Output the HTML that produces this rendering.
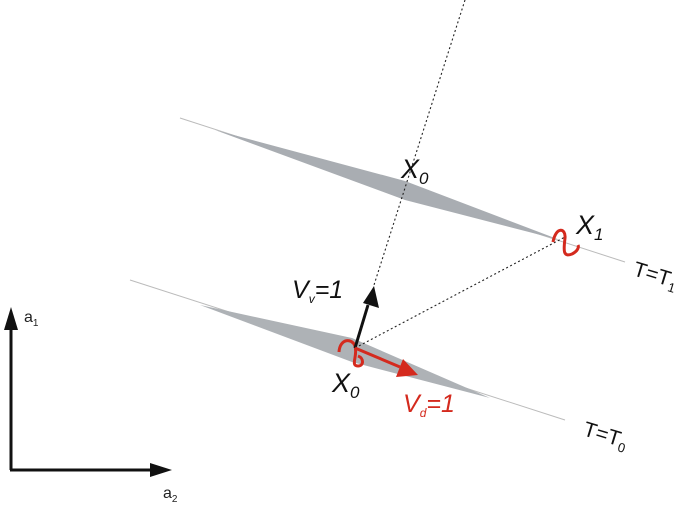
<!DOCTYPE html>
<html><head><meta charset="utf-8"><style>
html,body{margin:0;padding:0;background:#fff;}
svg{display:block;}
text{font-family:"Liberation Sans",sans-serif;}
</style></head><body>
<svg width="686" height="524" viewBox="0 0 686 524" xmlns="http://www.w3.org/2000/svg">
<!-- upper line -->
<line x1="180" y1="118" x2="625" y2="262" stroke="#bbb" stroke-width="1"/>
<path d="M215,130 L405,181 L560,240 L405,200 Z" fill="#a9adb2"/>
<!-- lower line -->
<line x1="130" y1="280" x2="565" y2="420" stroke="#bbb" stroke-width="1"/>
<path d="M200,305 L352,338 L490,398 L352,362 Z" fill="#aeb2b6"/>
<!-- dotted lines -->
<line x1="465" y1="0" x2="374" y2="285" stroke="#222" stroke-width="1.1" stroke-dasharray="2,2.5"/>
<line x1="355" y1="348" x2="565" y2="237" stroke="#222" stroke-width="1.1" stroke-dasharray="2,2.5"/>
<!-- squiggles -->
<path d="M553,242 C556,226 566,228 565,238 C564,248 562,258 572,254 C578,251 579,247 578,245" fill="none" stroke="#d42a1e" stroke-width="3"/>
<path d="M339,352 C340,338 352,338 355,346 C358,356 350,366 358,366 C364,366 364,358 358,356" fill="none" stroke="#d42a1e" stroke-width="3"/>
<!-- black arrow -->
<line x1="355" y1="348" x2="368" y2="305" stroke="#111" stroke-width="3"/>
<polygon points="374,286 379,308 363,303" fill="#111"/>
<!-- red arrow -->
<line x1="355" y1="348" x2="400" y2="367" stroke="#d42a1e" stroke-width="3"/>
<polygon points="418,375 396,377 403,359" fill="#d42a1e"/>
<!-- axes -->
<line x1="11" y1="470" x2="11" y2="320" stroke="#111" stroke-width="3"/>
<polygon points="11,307 4,330 18,330" fill="#111"/>
<line x1="10" y1="470" x2="158" y2="470" stroke="#111" stroke-width="3"/>
<polygon points="172,470 150,463 150,477" fill="#111"/>
<text x="24" y="322" font-size="16" fill="#222">a<tspan font-size="10" dy="4">1</tspan></text>
<text x="163" y="498" font-size="16" fill="#222">a<tspan font-size="10" dy="4">2</tspan></text>
<!-- labels -->
<text x="401" y="178" font-size="27" font-style="italic" fill="#111">X<tspan font-size="17" dy="6">0</tspan></text>
<text x="576" y="234" font-size="27" font-style="italic" fill="#111">X<tspan font-size="17" dy="6">1</tspan></text>
<text x="332" y="392" font-size="27" font-style="italic" fill="#111">X<tspan font-size="17" dy="6">0</tspan></text>
<text x="292" y="298" font-size="25" font-style="italic" fill="#111">V<tspan font-size="12" dy="5">v</tspan><tspan dy="-5">=1</tspan></text>
<text x="403" y="412" font-size="25" font-style="italic" fill="#d42a1e">V<tspan font-size="12" dy="5">d</tspan><tspan dy="-5">=1</tspan></text>
<text transform="translate(632,275) rotate(17)" font-size="21" fill="#111">T=T<tspan font-size="13" dy="5">1</tspan></text>
<text transform="translate(582,435) rotate(17)" font-size="21" fill="#111">T=T<tspan font-size="13" dy="5">0</tspan></text>
</svg>
</body></html>
